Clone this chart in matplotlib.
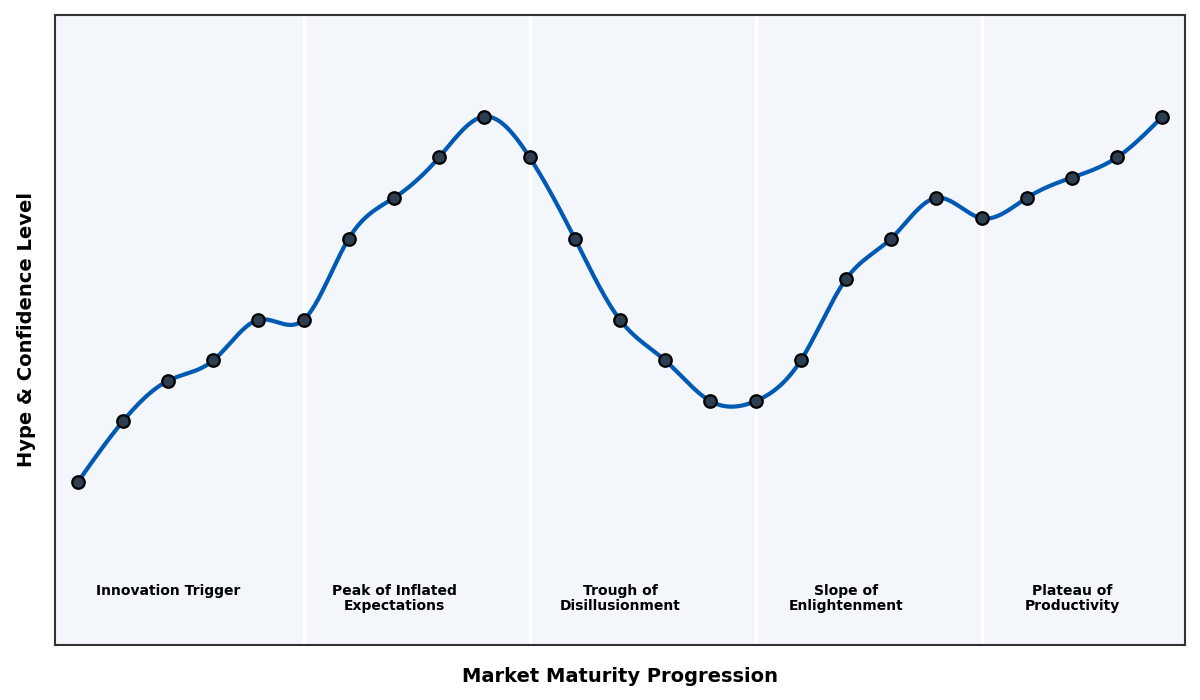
import numpy as np
import matplotlib
matplotlib.use("Agg")
import matplotlib.pyplot as plt

# data
stage_index = list(range(25))
hype_level = [0, 15, 25, 30, 40, 40, 60, 70, 80, 90, 80, 60, 40, 30, 20,
              20, 30, 50, 60, 70, 65, 70, 75, 80, 90]
phase_names = ["Innovation Trigger", "Peak of Inflated\nExpectations",
               "Trough of\nDisillusionment", "Slope of\nEnlightenment",
               "Plateau of\nProductivity"]
phase_centers = [2, 7, 12, 17, 22]
phase_bounds = [5, 10, 15, 20]


def _natural_spline(x, y, num=600):
	"""Smooth natural cubic spline through the points (for drawing only)"""
	x = np.asarray(x, dtype=float)
	y = np.asarray(y, dtype=float)
	n = len(x)
	h = np.diff(x)
	A = np.zeros((n, n))
	b = np.zeros(n)
	A[0, 0] = 1
	A[-1, -1] = 1
	for i in range(1, n - 1):
		A[i, i - 1] = h[i - 1]
		A[i, i] = 2 * (h[i - 1] + h[i])
		A[i, i + 1] = h[i]
		b[i] = 3 * ((y[i + 1] - y[i]) / h[i] - (y[i] - y[i - 1]) / h[i - 1])
	c = np.linalg.solve(A, b)
	xs = np.linspace(x[0], x[-1], num)
	idx = np.clip(np.searchsorted(x, xs) - 1, 0, n - 2)
	dx = xs - x[idx]
	bb = (y[idx + 1] - y[idx]) / h[idx] - h[idx] * (2 * c[idx] + c[idx + 1]) / 3
	dd = (c[idx + 1] - c[idx]) / (3 * h[idx])
	ys = y[idx] + bb * dx + c[idx] * dx ** 2 + dd * dx ** 3
	return xs, ys
# end def


fig = plt.figure(figsize=(12, 7), dpi=100)
ax = fig.add_axes([0.0458, 0.0786, 0.9417, 0.9])
ax.set_facecolor("#f3f6fa")

for xb in phase_bounds:
	ax.axvline(xb, color="white", linewidth=2.5, zorder=1)

xs, ys = _natural_spline(stage_index, hype_level)
ax.plot(xs, ys, color="#0059b3", linewidth=3, zorder=2)
ax.plot(stage_index, hype_level, "o", markersize=9, markerfacecolor="#2c3e50",
        markeredgecolor="black", markeredgewidth=1.6, zorder=3)

for xc, name in zip(phase_centers, phase_names):
	ax.text(xc, -25, name, ha="center", va="top", fontsize=10,
	        fontweight="bold", color="black", linespacing=1.1)

ax.set_xlim(-0.5, 24.5)
ax.set_ylim(-40, 115)
ax.set_xticks([])
ax.set_yticks([])
for sp in ax.spines.values():
	sp.set_color("#333333")
	sp.set_linewidth(1.5)

ax.set_xlabel("Market Maturity Progression", fontsize=14, fontweight="bold", labelpad=16)
ax.set_ylabel("Hype & Confidence Level", fontsize=14, fontweight="bold", labelpad=14)

fig.savefig("out.png", dpi=100)
